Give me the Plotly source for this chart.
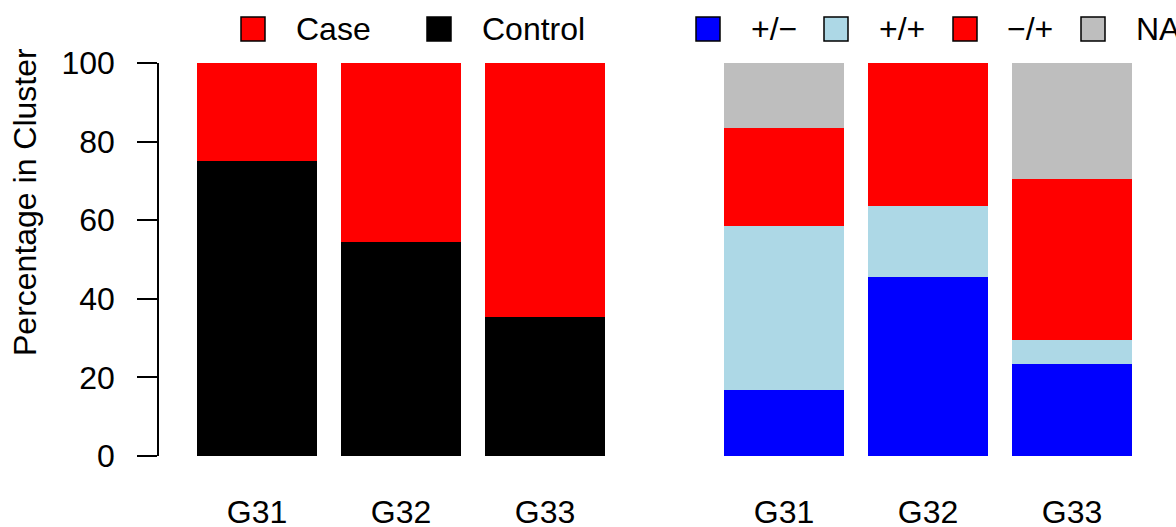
import plotly.graph_objects as go

# Cluster labels
clusters = ["G31", "G32", "G33"]

# Left panel: case/control composition (% in cluster)
control_pct = [75.0, 54.5, 35.3]
case_pct = [25.0, 45.5, 64.7]

# Right panel: genotype composition (% in cluster)
geno_pm = [16.7, 45.5, 23.5]   # +/−
geno_pp = [41.7, 18.2, 5.9]    # +/+
geno_mp = [25.0, 36.4, 41.2]   # −/+
geno_na = [16.7, 0.0, 29.4]    # NA

y_ticks = [0, 20, 40, 60, 80, 100]

W, H = 1176, 527
FONT = "Liberation Sans, Arial, Helvetica, sans-serif"
FS = 32
BAR_W = 120 / 144


def px(x):
    return x / W


def py(y):
    return 1 - y / H


fig = go.Figure()

left_series = [("Control", control_pct, "#000000"), ("Case", case_pct, "#FF0000")]
for name, vals, col in left_series:
    fig.add_trace(go.Bar(x=clusters, y=vals, name=name, marker=dict(color=col, line=dict(width=0)),
                         width=BAR_W, xaxis="x", yaxis="y", showlegend=False))

right_series = [("+/−", geno_pm, "#0000FF"), ("+/+", geno_pp, "#ADD8E6"),
                ("−/+", geno_mp, "#FF0000"), ("NA", geno_na, "#BEBEBE")]
for name, vals, col in right_series:
    fig.add_trace(go.Bar(x=clusters, y=vals, name=name, marker=dict(color=col, line=dict(width=0)),
                         width=BAR_W, xaxis="x2", yaxis="y2", showlegend=False))

y_dom = [py(456), py(63)]

xcommon = dict(type="category", showline=False, ticks="", showgrid=False, zeroline=False,
               automargin=False,
               tickfont=dict(size=FS, color="black", family=FONT), ticklabelstandoff=34)

fig.update_layout(
    width=W, height=H,
    margin=dict(l=0, r=0, t=0, b=0, autoexpand=False),
    paper_bgcolor="white", plot_bgcolor="white",
    barmode="stack",
    font=dict(family=FONT, color="black", size=FS),
    xaxis=dict(domain=[px(159), px(620)], range=[-(257 - 159) / 144, (620 - 257) / 144],
               anchor="y", **xcommon),
    xaxis2=dict(domain=[px(700), px(1150)], range=[-(784 - 700) / 144, (1150 - 784) / 144],
                anchor="y2", **xcommon),
    yaxis=dict(domain=y_dom, range=[0, 100], tickvals=y_ticks, ticks="outside", ticklen=20,
               tickwidth=1.5, tickcolor="black", showline=True, linecolor="black", linewidth=1.5,
               showgrid=False, zeroline=False, ticklabelstandoff=16, automargin=False,
               tickfont=dict(size=FS, color="black", family=FONT), anchor="x"),
    yaxis2=dict(domain=y_dom, range=[0, 100], visible=False, anchor="x2", automargin=False),
)

# Axis title
fig.add_annotation(text="Percentage in Cluster", x=px(25), y=py(202), xref="paper", yref="paper",
                   textangle=-90, showarrow=False, xanchor="center", yanchor="middle",
                   font=dict(size=FS, color="black", family=FONT))

# Legend keys and labels
legend_items = [
    (241, "#FF0000", 294, "Case"),
    (427, "#000000", 480, "Control"),
    (696, "#0000FF", 749, "+/−"),
    (824, "#ADD8E6", 877, "+/+"),
    (953, "#FF0000", 1005, "−/+"),
    (1081, "#BEBEBE", 1134, "NA"),
]
for kx, col, tx, label in legend_items:
    fig.add_shape(type="rect", xref="paper", yref="paper",
                  x0=px(kx), x1=px(kx + 24), y0=py(41), y1=py(17),
                  fillcolor=col, line=dict(color="black", width=1.5))
    fig.add_annotation(text=label, x=px(tx), y=py(29), xref="paper", yref="paper",
                       showarrow=False, xanchor="left", yanchor="middle",
                       font=dict(size=FS, color="black", family=FONT))

fig.write_html("out.html")
